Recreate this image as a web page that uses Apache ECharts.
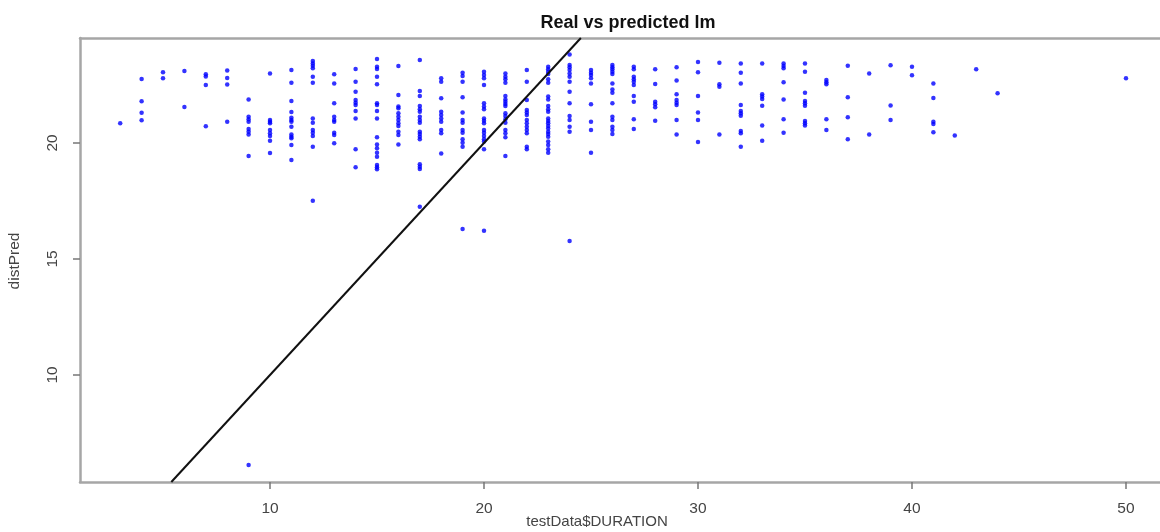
<!DOCTYPE html>
<html>
<head>
<meta charset="utf-8">
<script src="https://cdn.jsdelivr.net/npm/echarts@6/dist/echarts.min.js"></script>
<style>
html,body{margin:0;padding:0;background:#fff;}
#chart{width:1160px;height:532px;}
</style>
</head>
<body>
<div id="chart"></div>
<script>
// Predicted value (distPred) for each observed duration (testData$DURATION)
const pointGroups = [
  [3, [20.85]],
  [4, [22.76, 21.8, 21.3, 20.98]],
  [5, [23.05, 22.79]],
  [6, [23.1, 21.55]],
  [7, [22.96, 22.87, 22.5, 20.72]],
  [8, [23.13, 22.8, 22.52, 20.92]],
  [9, [21.88, 21.13, 21.02, 20.92, 20.6, 20.49, 20.37, 19.44, 6.12]],
  [10, [23.0, 20.99, 20.92, 20.85, 20.56, 20.42, 20.3, 20.1, 19.57]],
  [11, [23.15, 22.6, 21.81, 21.34, 21.09, 20.99, 20.92, 20.7, 20.37, 20.27, 20.2, 19.91, 19.27]],
  [12, [23.53, 23.43, 23.33, 23.22, 22.86, 22.6, 21.06, 20.87, 20.56, 20.44, 20.3, 19.84, 17.51]],
  [13, [22.96, 22.57, 21.71, 21.13, 20.99, 20.92, 20.44, 20.34, 19.99]],
  [14, [23.19, 22.64, 22.21, 21.85, 21.74, 21.64, 21.38, 21.06, 19.73, 18.95]],
  [15, [23.62, 23.29, 23.19, 22.86, 22.53, 21.71, 21.64, 21.38, 21.06, 20.25, 19.94, 19.77, 19.58, 19.41, 19.05, 18.95, 18.87]],
  [16, [23.32, 22.07, 21.57, 21.5, 21.28, 21.13, 20.99, 20.85, 20.73, 20.49, 20.34, 19.94]],
  [17, [23.58, 22.24, 22.03, 21.6, 21.45, 21.35, 21.13, 20.99, 20.87, 20.49, 20.39, 20.27, 20.16, 19.08, 18.98, 18.88, 17.25]],
  [18, [22.79, 22.64, 21.93, 21.35, 21.21, 21.06, 20.92, 20.56, 20.42, 19.55]],
  [19, [23.03, 22.89, 22.64, 21.97, 21.31, 20.99, 20.87, 20.56, 20.44, 20.16, 20.01, 19.84, 16.29]],
  [20, [23.07, 22.93, 22.79, 22.5, 21.71, 21.57, 21.45, 21.06, 20.96, 20.85, 20.56, 20.44, 20.3, 20.16, 20.06, 19.73, 16.22]],
  [21, [23.0, 22.86, 22.75, 22.6, 22.03, 21.88, 21.78, 21.68, 21.6, 21.28, 21.16, 21.02, 20.87, 20.56, 20.42, 20.25, 19.44]],
  [22, [23.15, 22.64, 21.85, 21.42, 21.31, 21.21, 20.99, 20.85, 20.7, 20.56, 20.42, 19.84, 19.73]],
  [23, [23.29, 23.18, 23.07, 22.97, 22.75, 22.6, 22.0, 21.88, 21.6, 21.45, 21.35, 21.06, 20.95, 20.85, 20.73, 20.62, 20.49, 20.39, 20.27, 20.06, 19.91, 19.73, 19.58]],
  [24, [23.82, 23.36, 23.26, 23.15, 23.0, 22.86, 22.64, 22.21, 21.71, 21.16, 20.99, 20.7, 20.49, 15.78]],
  [25, [23.15, 23.03, 22.93, 22.79, 22.57, 21.67, 20.92, 20.56, 19.58]],
  [26, [23.36, 23.26, 23.18, 23.07, 22.97, 22.57, 22.31, 22.17, 21.71, 21.13, 20.99, 20.7, 20.56, 20.39]],
  [27, [23.29, 23.18, 22.86, 22.75, 22.64, 22.5, 22.03, 21.78, 21.02, 20.6]],
  [28, [23.18, 22.54, 21.78, 21.67, 21.54, 20.96]],
  [29, [23.26, 22.69, 22.1, 21.85, 21.74, 21.64, 20.99, 20.37]],
  [30, [23.49, 23.05, 22.03, 21.32, 20.99, 20.04]],
  [31, [23.46, 22.53, 22.43, 20.37]],
  [32, [23.43, 23.03, 22.56, 21.64, 21.38, 21.28, 21.18, 20.52, 20.42, 19.84]],
  [33, [23.43, 22.1, 22.0, 21.9, 21.61, 20.75, 20.1]],
  [34, [23.43, 23.32, 23.22, 22.62, 21.88, 21.02, 20.44]],
  [35, [23.43, 23.07, 22.17, 21.81, 21.71, 21.61, 20.95, 20.85, 20.75]],
  [36, [22.72, 22.62, 22.53, 21.02, 20.56]],
  [37, [23.33, 21.97, 21.11, 20.16]],
  [38, [23.0, 20.37]],
  [39, [23.35, 21.62, 20.99]],
  [40, [23.29, 22.92]],
  [41, [22.56, 21.94, 20.92, 20.82, 20.46]],
  [42, [20.32]],
  [43, [23.18]],
  [44, [22.14]],
  [50, [22.79]]
];
const xTicks = [10, 20, 30, 40, 50];
const yTicks = [10, 15, 20];
const xRange = [1.121, 51.59];
const yRange = [5.388, 24.526];
const titleText = 'Real vs predicted lm';
const xName = 'testData$DURATION';
const yName = 'distPred';

const scatterData = [];
pointGroups.forEach(function (g) {
  g[1].forEach(function (v) { scatterData.push([g[0], v]); });
});
// identity reference line y = x, spanning the visible range
const lineData = [[yRange[0], yRange[0]], [yRange[1], yRange[1]]];

const chart = echarts.init(document.getElementById('chart'), null, {renderer: 'canvas'});
const labelFont = {fontFamily: 'Liberation Sans, Arial, sans-serif', fontSize: 15.5, color: '#444'};
const frame = {show: true, lineStyle: {color: '#a6a6a6', width: 2.5}};
chart.setOption({
  animation: false,
  backgroundColor: '#fff',
  title: {
    text: titleText,
    left: 623, top: 9, textAlign: 'center',
    textStyle: {fontFamily: 'Liberation Sans, Arial, sans-serif', fontWeight: 'bold', fontSize: 18, color: '#111'}
  },
  grid: {left: 80, top: 38, right: 0, bottom: 50, show: false},
  xAxis: [{
    type: 'value', min: xRange[0], max: xRange[1], position: 'bottom',
    axisLine: frame,
    splitLine: {show: false},
    axisTick: {show: true, length: 7, customValues: xTicks, lineStyle: {color: '#777', width: 1.5}},
    axisLabel: Object.assign({customValues: xTicks, margin: 19}, labelFont)
  }, {
    type: 'value', min: xRange[0], max: xRange[1], position: 'top',
    axisLine: frame,
    splitLine: {show: false}, axisTick: {show: false}, axisLabel: {show: false}
  }],
  yAxis: {
    type: 'value', min: yRange[0], max: yRange[1],
    axisLine: frame,
    splitLine: {show: false},
    axisTick: {show: true, length: 7, customValues: yTicks, lineStyle: {color: '#777', width: 1.5}},
    axisLabel: Object.assign({customValues: yTicks, margin: 19, rotate: 90}, labelFont)
  },
  graphic: [
    {type: 'text', x: 597, y: 522, style: {text: xName, textAlign: 'center', textVerticalAlign: 'middle', font: '15px "Liberation Sans", Arial, sans-serif', fill: '#444'}},
    {type: 'text', x: 15, y: 261, rotation: Math.PI / 2, style: {text: yName, textAlign: 'center', textVerticalAlign: 'middle', font: '15.5px "Liberation Sans", Arial, sans-serif', fill: '#444'}}
  ],
  series: [
    {
      type: 'scatter', data: scatterData, symbol: 'circle', symbolSize: 4.5, xAxisIndex: 0,
      itemStyle: {color: '#0000ff'}, silent: true
    },
    {
      type: 'line', data: lineData, symbol: 'none', clip: true, xAxisIndex: 0,
      lineStyle: {color: '#111', width: 2}, silent: true
    }
  ]
});
</script>
</body>
</html>
